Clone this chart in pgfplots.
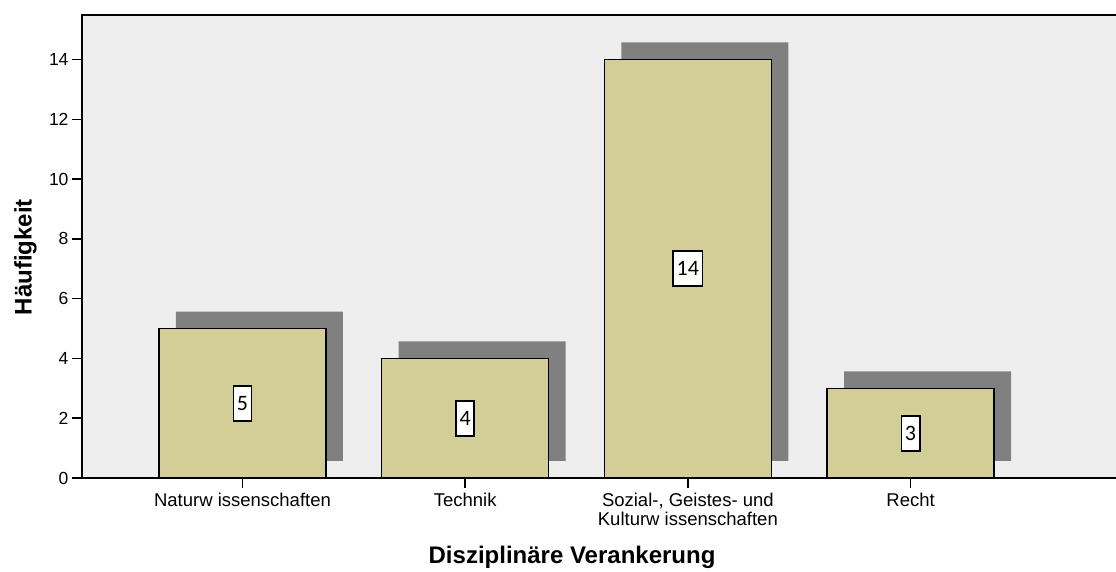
\documentclass[border=0pt]{standalone}
\usepackage{fontspec}
\setmainfont{Liberation Sans}
\newfontfamily\carlito{Carlito}
\usepackage{pgfplots}
\usepackage{pgfplotstable}
\pgfplotsset{compat=1.18}
\definecolor{barfill}{RGB}{211,206,151}
\definecolor{shadowc}{RGB}{128,128,128}
\definecolor{bgc}{RGB}{238,238,238}
\pgfplotstableread{
x v
0 5
1 4
2 14
3 3
}\data
\pgfplotsset{common/.style={scale only axis, width=1036pt, height=463pt,
  xmin=-0.7207, xmax=3.9317, ymin=0, ymax=15.49, at={(0pt,0pt)}, anchor=south west}}
\begin{document}
\begin{tikzpicture}
\begin{axis}[common, axis background/.style={fill=bgc},
  axis line style={draw=none}, xtick=\empty, ytick=\empty,
  ybar stacked, bar width=0.75]
\addplot[draw=none, fill=none] table[x expr=\thisrow{x}+0.0763, y expr=0.57] {\data};
\addplot[draw=none, fill=shadowc] table[x expr=\thisrow{x}+0.0763, y=v] {\data};
\end{axis}
\begin{axis}[common,
  axis line style={line width=1.8pt, black},
  tick style={line width=1.6pt, black},
  major tick length=10pt, tick align=outside,
  xtick pos=left, ytick pos=left,
  xtick={0,1,2,3},
  xticklabels={Naturw issenschaften, Technik, {Sozial-, Geistes- und\\Kulturw issenschaften}, Recht},
  xticklabel style={align=center, font=\fontsize{18.5}{18.3}\selectfont, yshift=-2pt},
  ytick={0,2,...,14},
  yticklabel style={font=\fontsize{17.5}{18}\selectfont},
  /pgf/number format/assume math mode=true,
  ylabel={Häufigkeit}, xlabel={Disziplinäre Verankerung},
  every axis y label/.style={at={(axis description cs:-0.0486,0.477)}, rotate=90, anchor=base, font=\fontsize{24}{24}\selectfont\bfseries},
  every axis x label/.style={at={(axis description cs:0.473,-0.1836)}, anchor=base, font=\fontsize{24}{24}\selectfont\bfseries},
  ]
\addplot[ybar, bar width=0.75, bar shift=0pt, fill=barfill, draw=black, line width=1.3pt] table[x=x, y=v] {\data};
\addplot[draw=none, mark=none, point meta=explicit symbolic,
  nodes near coords={\carlito\pgfplotspointmeta}, nodes near coords align=center,
  every node near coord/.append style={fill=white, draw=black, line width=1.8pt, inner xsep=3.5pt, inner ysep=0pt, minimum height=35pt, font=\fontsize{22}{22}\selectfont, anchor=center}]
  table[x=x, y expr=\thisrow{v}/2, meta=v] {\data};
\end{axis}
\pgfresetboundingbox
\path (-82pt,-94pt) rectangle (1034pt,478pt);
\end{tikzpicture}
\end{document}
